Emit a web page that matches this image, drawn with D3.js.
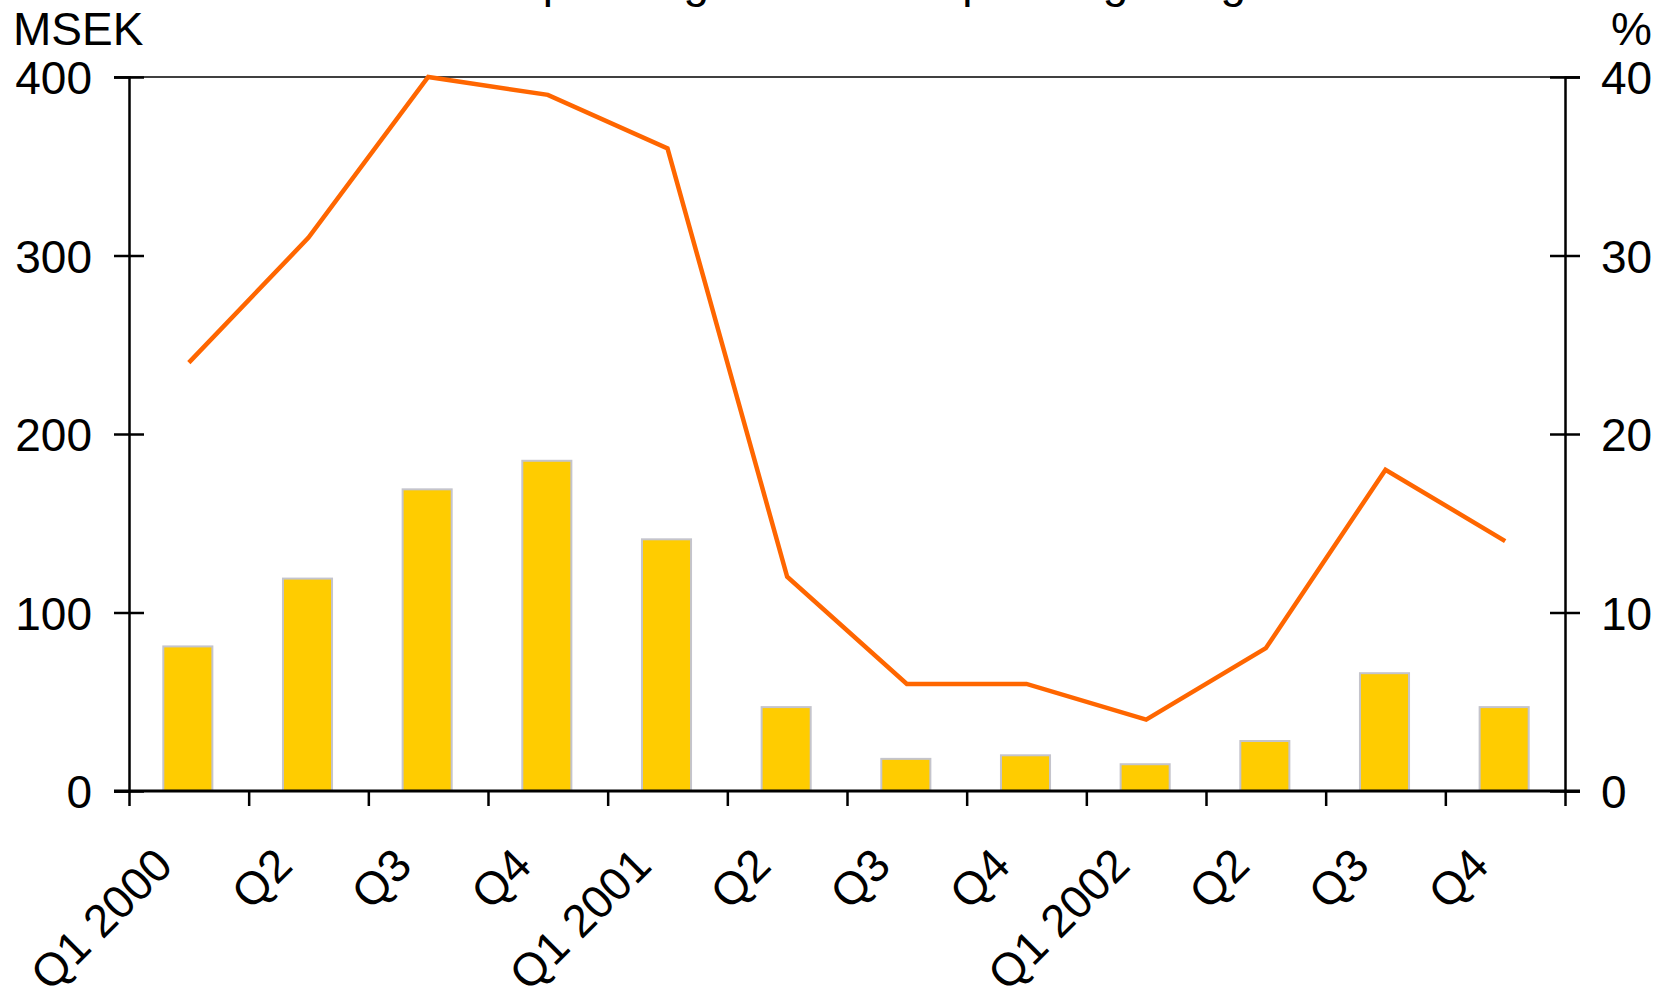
<!DOCTYPE html>
<html lang="en">
<head>
  <meta charset="UTF-8">
  <title>Operating result and operating margin</title>
  <script src="https://d3js.org/d3.v7.min.js"></script>
  <style>
    html, body { margin: 0; padding: 0; background: #fff; }
    svg text { font-family: "Liberation Sans", Arial, sans-serif; fill: #000; }
  </style>
</head>
<body>

<div id="chart"></div>

<script>
  const quarters = ['Q1 2000', 'Q2', 'Q3', 'Q4', 'Q1 2001', 'Q2', 'Q3', 'Q4', 'Q1 2002', 'Q2', 'Q3', 'Q4'];
  const operatingResult = [81, 119, 169, 185, 141, 47, 18, 20, 15, 28, 66, 47];   // MSEK
  const operatingMargin = [24, 31, 40, 39, 36, 12, 6, 6, 4, 8, 18, 14];           // %
  const leftTicks = [0, 100, 200, 300, 400];
  const rightTicks = [0, 10, 20, 30, 40];

  const width = 1658;
  const height = 991;
  const plotLeft = 129, plotRight = 1565, plotTop = 77, plotBottom = 791;
  const fontSize = 46;

  const svg = d3.select('#chart')
    .append('svg')
    .attr('width', width)
    .attr('height', height);

  const idx = d3.range(quarters.length);
  const x = d3.scaleBand().domain(idx).range([plotLeft, plotRight]).padding(0);
  const xEdge = d3.scaleLinear().domain([0, quarters.length]).range([plotLeft, plotRight]);
  const yLeft = d3.scaleLinear().domain([0, 400]).range([plotBottom, plotTop]);
  const yRight = d3.scaleLinear().domain([0, 40]).range([plotBottom, plotTop]);

  // title, cut off at the top of the picture
  svg.append('text')
    .attr('x', 507)
    .attr('y', -3)
    .style('font-size', fontSize + 'px')
    .text('Operating result and operating margin');

  // bars
  const barW = x.bandwidth() * 0.41;
  svg.selectAll('rect.bar')
    .data(operatingResult)
    .enter().append('rect')
    .attr('class', 'bar')
    .attr('x', (d, i) => x(i) + x.bandwidth() / 2 - barW / 2 - 1)
    .attr('y', d => yLeft(d))
    .attr('width', barW)
    .attr('height', d => yLeft(0) - yLeft(d))
    .attr('fill', '#FFCC00')
    .attr('stroke', '#C4C4CC')
    .attr('stroke-width', 2);

  // top border
  svg.append('line')
    .attr('x1', plotLeft - 15).attr('x2', plotRight + 15)
    .attr('y1', plotTop).attr('y2', plotTop)
    .attr('stroke', '#000').attr('stroke-width', 1.6);

  // left axis
  const gl = svg.append('g')
    .attr('transform', `translate(${plotLeft},0)`)
    .call(d3.axisLeft(yLeft).tickValues(leftTicks).tickSize(15).tickPadding(22));
  gl.selectAll('.tick line').attr('x1', 15).attr('stroke-width', 2.5);
  gl.select('.domain').attr('stroke-width', 2.5);

  // right axis
  const gr = svg.append('g')
    .attr('transform', `translate(${plotRight},0)`)
    .call(d3.axisRight(yRight).tickValues(rightTicks).tickSize(15).tickPadding(21));
  gr.selectAll('.tick line').attr('x1', -15).attr('stroke-width', 2.5);
  gr.select('.domain').attr('stroke-width', 2.5);

  [gl, gr].forEach(g => {
    g.attr('font-size', null).attr('font-family', null);
    g.selectAll('.tick text')
      .style('font-size', fontSize + 'px')
      .attr('dy', '0.36em');
  });

  // bottom axis with ticks on the category edges
  const gb = svg.append('g')
    .attr('transform', `translate(0,${plotBottom})`)
    .call(d3.axisBottom(xEdge).tickValues(d3.range(quarters.length + 1)).tickSize(15).tickFormat(''));
  gb.select('.domain').remove();
  gb.selectAll('.tick line').attr('stroke-width', 2.5);
  svg.append('line')
    .attr('x1', plotLeft - 15).attr('x2', plotRight + 15)
    .attr('y1', plotBottom).attr('y2', plotBottom)
    .attr('stroke', '#000').attr('stroke-width', 3);

  // rotated category labels
  svg.selectAll('text.xlab')
    .data(quarters)
    .enter().append('text')
    .attr('class', 'xlab')
    .attr('text-anchor', 'end')
    .attr('transform', (d, i) => `translate(${x(i) + x.bandwidth() / 2 - 14},${plotBottom + 77}) rotate(-45)`)
    .style('font-size', fontSize + 'px')
    .text(d => d);

  // margin line
  const line = d3.line()
    .x((d, i) => x(i) + x.bandwidth() / 2)
    .y(d => yRight(d));

  svg.append('path')
    .datum(operatingMargin)
    .attr('d', line)
    .attr('fill', 'none')
    .attr('stroke', '#FF6600')
    .attr('stroke-width', 4.5);

  // unit labels
  svg.append('text')
    .attr('x', 13).attr('y', 45)
    .style('font-size', fontSize + 'px')
    .text('MSEK');

  svg.append('text')
    .attr('x', 1652).attr('y', 45)
    .attr('text-anchor', 'end')
    .style('font-size', fontSize + 'px')
    .text('%');
</script>

</body>
</html>
